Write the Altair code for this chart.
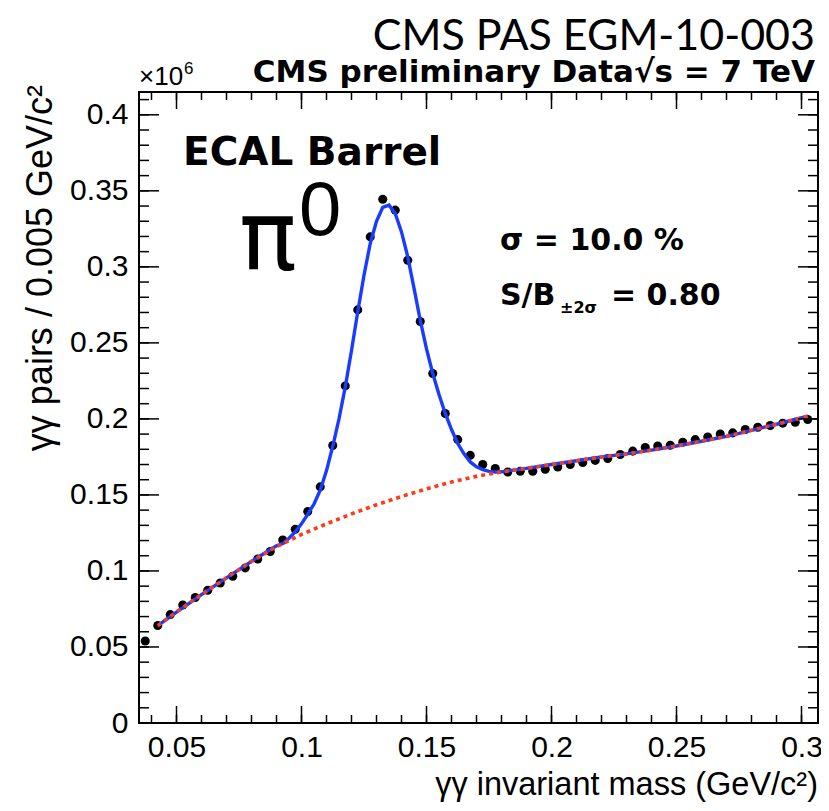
import altair as alt
import pandas as pd

# ---- data (pairs in units of 10^6 per 0.005 GeV/c^2) ----
mass = [0.0375, 0.0425, 0.0475, 0.0525, 0.0575, 0.0625, 0.0675, 0.0725, 0.0775, 0.0825,
        0.0875, 0.0925, 0.0975, 0.1025, 0.1075, 0.1125, 0.1175, 0.1225, 0.1275, 0.1325,
        0.1375, 0.1425, 0.1475, 0.1525, 0.1575, 0.1625, 0.1675, 0.1725, 0.1775, 0.1825,
        0.1875, 0.1925, 0.1975, 0.2025, 0.2075, 0.2125, 0.2175, 0.2225, 0.2275, 0.2325,
        0.2375, 0.2425, 0.2475, 0.2525, 0.2575, 0.2625, 0.2675, 0.2725, 0.2775, 0.2825,
        0.2875, 0.2925, 0.2975, 0.3025]
pairs = [0.0539, 0.0641, 0.0713, 0.0776, 0.0825, 0.0873, 0.0921, 0.0965, 0.1020, 0.1079,
         0.1128, 0.1204, 0.1274, 0.1391, 0.1553, 0.1825, 0.2217, 0.2717, 0.3197, 0.3445,
         0.3373, 0.3043, 0.2641, 0.2299, 0.2036, 0.1864, 0.1760, 0.1700, 0.1674, 0.1651,
         0.1656, 0.1656, 0.1669, 0.1684, 0.1700, 0.1713, 0.1727, 0.1740, 0.1766, 0.1788,
         0.1812, 0.1822, 0.1827, 0.1847, 0.1864, 0.1881, 0.1901, 0.1908, 0.1930, 0.1945,
         0.1957, 0.1972, 0.1978, 0.1996]

# total fit (signal + background), blue
fit_x = [0.0425, 0.05, 0.06, 0.07, 0.08, 0.085, 0.09, 0.0925, 0.095, 0.0975, 0.1, 0.1025,
         0.105, 0.1075, 0.11, 0.1125, 0.115, 0.1175, 0.12, 0.1225, 0.125, 0.1275, 0.13,
         0.1325, 0.135, 0.1375, 0.14, 0.1425, 0.145, 0.1475, 0.15, 0.1525, 0.155, 0.1575,
         0.16, 0.1625, 0.165, 0.1675, 0.17, 0.1725, 0.175, 0.1775, 0.18, 0.1825, 0.19, 0.20,
         0.21, 0.22, 0.23, 0.24, 0.25, 0.26, 0.27, 0.28, 0.29, 0.3025]
fit_y = [0.0640, 0.0730, 0.0845, 0.0955, 0.1063, 0.1115, 0.1165, 0.1180, 0.1215, 0.1257,
         0.1310, 0.1373, 0.1440, 0.1531, 0.1660, 0.1820, 0.2000, 0.2210, 0.2450, 0.2705,
         0.2945, 0.3154, 0.3300, 0.3391, 0.3406, 0.3351, 0.3230, 0.3066, 0.2860, 0.2649,
         0.2460, 0.2299, 0.2160, 0.2036, 0.1930, 0.1838, 0.1770, 0.1717, 0.1685, 0.1667,
         0.1655, 0.1651, 0.1652, 0.1658, 0.1675, 0.1700, 0.1725, 0.1750, 0.1770, 0.1795,
         0.1822, 0.1853, 0.1885, 0.1925, 0.1965, 0.2018]

# background, red dotted
bkg_x = [0.0425, 0.05, 0.06, 0.07, 0.08, 0.09, 0.10, 0.11, 0.12, 0.13, 0.14, 0.15, 0.16,
         0.17, 0.18, 0.19, 0.20, 0.21, 0.22, 0.23, 0.24, 0.25, 0.26, 0.27, 0.28, 0.29, 0.3025]
bkg_y = [0.0640, 0.0730, 0.0845, 0.0955, 0.1063, 0.1160, 0.1240, 0.1310, 0.1375, 0.1435,
         0.1490, 0.1540, 0.1585, 0.1622, 0.1652, 0.1675, 0.1700, 0.1725, 0.1750, 0.1770,
         0.1795, 0.1822, 0.1853, 0.1885, 0.1925, 0.1965, 0.2018]

x_major = [0.05, 0.1, 0.15, 0.2, 0.25, 0.3]
x_minor = [round(0.04 + 0.01 * i, 2) for i in range(27)]
y_major = [0, 0.05, 0.1, 0.15, 0.2, 0.25, 0.3, 0.35, 0.4]
y_minor = [round(0.01 * i, 2) for i in range(1, 42)]

W, H = 679, 631
FONT = "Liberation Sans"
BOLD = "DejaVu Sans"
xs = alt.Scale(domain=[0.035, 0.3066], nice=False, zero=False)
ys = alt.Scale(domain=[0, 0.415], nice=False, zero=False)
xaxis = alt.Axis(values=x_major, format="~g", ticks=False, domain=False, grid=False,
                 labelPadding=9, labelFontSize=30, labelFont=FONT, labelColor="black",
                 title=None)
yaxis = alt.Axis(values=y_major, format="~g", ticks=False, domain=False, grid=False,
                 labelPadding=11, labelFontSize=30, labelFont=FONT, labelColor="black",
                 title=None)


def X(field):
    return alt.X(field, type="quantitative", scale=xs, axis=xaxis)


def Y(field):
    return alt.Y(field, type="quantitative", scale=ys, axis=yaxis)


pts = alt.Chart(pd.DataFrame({"m": mass, "v": pairs})).mark_circle(
    size=82, color="black", opacity=1
).encode(x=X("m"), y=Y("v"))

fit = alt.Chart(pd.DataFrame({"m": fit_x, "v": fit_y})).mark_line(
    color="#1a3cff", strokeWidth=3.4
).encode(x=X("m"), y=Y("v"))

bkg = alt.Chart(pd.DataFrame({"m": bkg_x, "v": bkg_y})).mark_line(
    color="#ff3a1a", strokeWidth=3.6, strokeDash=[4, 4]
).encode(x=X("m"), y=Y("v"))


def yticks(vals, length):
    d = pd.DataFrame({"t": vals})
    left = alt.Chart(d).mark_rule(color="black", strokeWidth=1.5).encode(
        y=Y("t"), x=alt.value(0), x2=alt.value(length))
    right = alt.Chart(d).mark_rule(color="black", strokeWidth=1.5).encode(
        y=Y("t"), x=alt.value(W), x2=alt.value(W - length))
    return [left, right]


def xticks(vals, length):
    d = pd.DataFrame({"t": vals})
    bottom = alt.Chart(d).mark_rule(color="black", strokeWidth=1.5).encode(
        x=X("t"), y=alt.value(H), y2=alt.value(H - length))
    top = alt.Chart(d).mark_rule(color="black", strokeWidth=1.5).encode(
        x=X("t"), y=alt.value(0), y2=alt.value(length))
    return [bottom, top]


def label(text, x, y, size, weight="normal", align="left", font=FONT, angle=0):
    kw = dict(fontSize=size, fontWeight=weight, align=align, font=font, color="black",
              baseline="alphabetic")
    if angle:
        kw["angle"] = angle
    return alt.Chart(alt.Data(values=[{}])).mark_text(**kw).encode(
        x=alt.value(x), y=alt.value(y), text=alt.value(text))


texts = [
    label("CMS PAS EGM-10-003", 676, -42, 43, align="right", font="Lato"),
    label("CMS preliminary Data√s = 7 TeV", 676, -10, 31, weight="bold", align="right", font=BOLD),
    label("×10", 0, -7, 26),
    label("6", 45, -18, 17),
    label("ECAL Barrel", 44, 73, 39, weight="bold", font=BOLD),
    label("π", 100, 178, 96, font=BOLD),
    label("0", 160, 143, 76),
    label("σ = 10.0 %", 361, 158, 30, weight="bold", font=BOLD),
    label("S/B", 361, 213, 30, weight="bold", font=BOLD),
    label("±2σ", 421, 221, 16, weight="bold", font=BOLD),
    label("= 0.80", 472, 213, 30, weight="bold", font=BOLD),
    label("γγ invariant mass (GeV/c²)", 679, 703, 32.5, align="right"),
    label("γγ pairs / 0.005 GeV/c²", -87, -7, 36, align="right", angle=270),
]

layers = [pts, fit, bkg] + yticks(y_major, 20) + yticks(y_minor, 10) + \
    xticks(x_major, 17) + xticks(x_minor, 8) + texts

chart = alt.layer(*layers).properties(
    width=W, height=H,
    autosize=alt.AutoSizeParams(type="none"),
    padding={"left": 131, "top": 84, "right": 3, "bottom": 80},
    background="white",
).configure_view(stroke="black", strokeWidth=2)

chart.save("out.html", embed_options={"renderer": "svg", "actions": False})
